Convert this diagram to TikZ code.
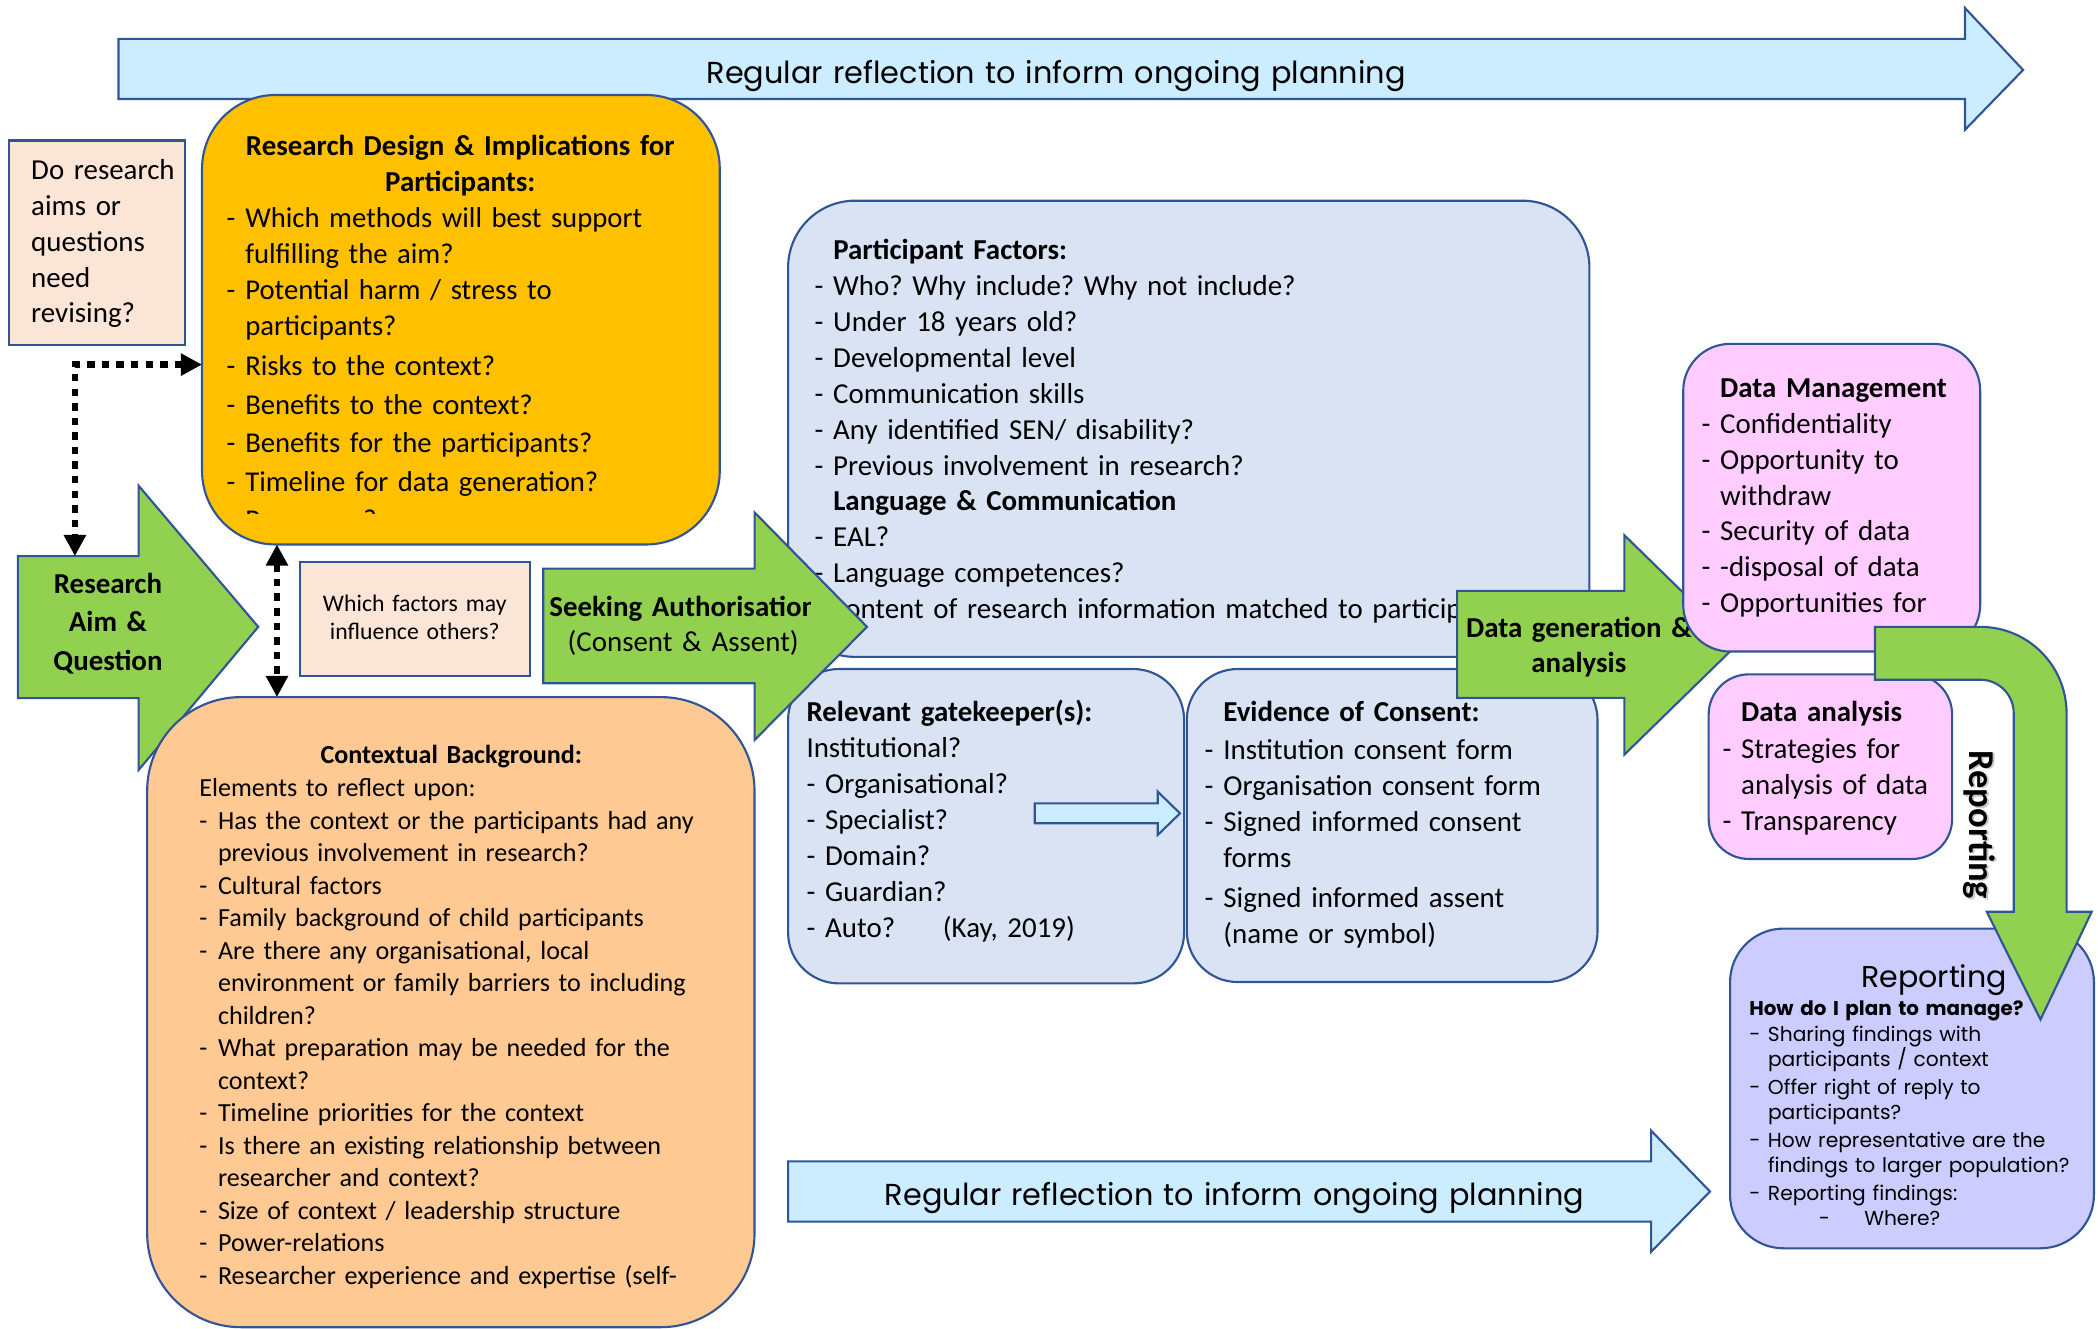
\documentclass[tikz,border=0pt]{standalone}
\usepackage{fontspec}
\setmainfont{Carlito}
\newfontfamily\gothic{Poppins}
\usetikzlibrary{arrows.meta}
\frenchspacing

\definecolor{edge}{HTML}{2F5597}
\definecolor{leaf}{HTML}{92D050}
\definecolor{sky}{HTML}{CCECFF}
\definecolor{gold}{HTML}{FFC000}
\definecolor{apricot}{HTML}{FFC993}
\definecolor{mist}{HTML}{DAE3F3}
\definecolor{orchid}{HTML}{FFCCFF}
\definecolor{lilac}{HTML}{CCCCFF}
\definecolor{peach}{HTML}{FBE5D6}

% list helpers: a dash column and the matching indent for wrapped lines
\newcommand\itemdash{\makebox[0.28cm][l]{-}}
\newcommand\itemgap{\hspace*{0.28cm}}
\newcommand\fsz[2]{\fontsize{#1}{#2}\selectfont}

\begin{document}
\begin{tikzpicture}[x=0.02cm,y=-0.02cm,
  panel/.style={draw=edge,line width=0.9pt,rectangle,inner sep=0pt,outer sep=0pt,anchor=north west},
  blk/.style={draw=edge,line width=0.9pt,line join=miter},
  txt/.style={anchor=base west,inner sep=0pt,align=left,text width=#1},
  txt/.default=11cm,
  ctxt/.style={anchor=base,inner sep=0pt,align=center,text width=#1},
  ctxt/.default=8cm,
  dots/.style={line width=2.8pt,dash pattern=on 3.2pt off 3pt,{Triangle[length=9pt,width=9pt]}-{Triangle[length=9pt,width=9pt]}},
]
\useasboundingbox (0,0) rectangle (1568,993);
\clip (0,0) rectangle (1568,993);

% ---------- top reflection arrow ----------
\draw[blk,fill=sky] (88.6,29.1) -- (1468.6,29.1) -- (1468.6,6) -- (1512,52.3)
  -- (1468.6,97) -- (1468.6,74) -- (88.6,74) -- cycle;
\node[ctxt=15cm,font=\gothic\fsz{12.9}{15}] (reflecttop) at (789.4,62.3)
  {Regular reflection to inform ongoing planning};

% ---------- left column ----------
\node[panel,fill=peach,minimum width=2.62cm,minimum height=3.06cm] (doq) at (7,105) {};
\node[txt=2.4cm,font=\fsz{12.3}{15.2}] (doqtext) at (23,134.5)
  {Do research\\aims or\\questions\\need\\revising?};

\node[panel,fill=gold,minimum width=7.74cm,minimum height=6.72cm,rounded corners=1.1cm] (rd) at (151,71) {};
\node[ctxt=7.4cm,font=\fsz{12.3}{15.35}\bfseries] (rdtitle) at (344,116.3)
  {Research Design \& Implications for\\Participants:};
\begin{scope}
  \clip (151,71) rectangle (538,384);
  \node[txt=7cm,font=\fsz{12.2}{15.35}] (rdlist) at (169,170.1)
    {\itemdash Which methods will best support\\
     \itemgap fulfilling the aim?\\
     \itemdash Potential harm / stress to\\
     \itemgap participants?\\[1.7pt]
     \itemdash Risks to the context?\\[1pt]
     \itemdash Benefits to the context?\\[1pt]
     \itemdash Benefits for the participants?\\[1pt]
     \itemdash Timeline for data generation?\\[1pt]
     \itemdash Resources?};
\end{scope}

% research aim arrow
\draw[blk,fill=leaf] (13.4,415.6) -- (103.6,415.6) -- (103.6,363) -- (193,468.5)
  -- (103.6,575.5) -- (103.6,521.8) -- (13.4,521.8) -- cycle;
\coordinate (aimtop) at (56,415.6);
\node[ctxt=3cm,font=\fsz{12.3}{16.3}\bfseries] (aimtext) at (80.7,443.5)
  {Research\\Aim \&\\Question};

% dotted links
\coordinate (bend) at (56,272.5);
\draw[dots] (rd.west |- bend) -- (bend) -- (aimtop);

\node[panel,fill=peach,minimum width=3.44cm,minimum height=1.7cm] (wf) at (224,420) {};
\node[ctxt=3.3cm,font=\fsz{10.1}{12}] (wftext) at (310,457.2)
  {Which factors may\\influence others?};

% ---------- participant panels ----------
\node[panel,fill=mist,minimum width=11.98cm,minimum height=6.82cm,rounded corners=1cm] (pf) at (589,150) {};
\begin{scope}
  \clip (589,150) rectangle (1188,491);
  \node[txt=13cm,font=\fsz{12.3}{15.25}] (pflist) at (608.4,194.3)
    {\itemgap\textbf{Participant Factors:}\\
     \itemdash Who? Why include? Why not include?\\
     \itemdash Under 18 years old?\\
     \itemdash Developmental level\\
     \itemdash Communication skills\\
     \itemdash Any identified SEN/ disability?\\
     \itemdash Previous involvement in research?\\
     \itemgap\textbf{Language \& Communication}\\
     \itemdash EAL?\\
     \itemdash Language competences?\\
     \itemdash content of research information matched to participants};
\end{scope}

\node[panel,fill=mist,minimum width=5.92cm,minimum height=4.7cm,rounded corners=0.76cm] (gk) at (589,500) {};
\node[txt=5.6cm,font=\fsz{12.3}{15.3}] (gklist) at (602.4,539.4)
  {\textbf{Relevant gatekeeper(s):}\\
   Institutional?\\
   \itemdash Organisational?\\
   \itemdash Specialist?\\
   \itemdash Domain?\\
   \itemdash Guardian?\\
   \itemdash \makebox[1.76cm][l]{Auto?}(Kay, 2019)};

\node[panel,fill=mist,minimum width=6.14cm,minimum height=4.68cm,rounded corners=0.76cm] (ev) at (887,500) {};
\node[txt=5.8cm,font=\fsz{12.3}{15.3}] (evlist) at (900,539.4)
  {\itemgap\textbf{Evidence of Consent:}\\[0.7pt]
   \itemdash Institution consent form\\
   \itemdash Organisation consent form\\
   \itemdash Signed informed consent\\
   \itemgap forms\\[1.7pt]
   \itemdash Signed informed assent\\
   \itemgap (name or symbol)};

% small arrow between the two lower panels
\draw[blk,fill=sky] (773.3,600.4) -- (865.3,600.4) -- (865.3,591.7) -- (881.9,607.9)
  -- (865.3,624) -- (865.3,615.3) -- (773.3,615.3) -- cycle;

% seeking authorisation arrow
\draw[blk,fill=leaf] (406,425) -- (564,425) -- (564,383) -- (648,468.5)
  -- (564,553) -- (564,510.6) -- (406,510.6) -- cycle;
\begin{scope}
  \clip (400,440) rectangle (606,470);
  \node[txt=5cm,font=\fsz{12.3}{14.9}\bfseries] (seek1) at (410.2,460.9) {Seeking Authorisation};
\end{scope}
\node[ctxt=4cm,font=\fsz{12.3}{14.9}] (seek2) at (510.6,487) {(Consent \& Assent)};

% ---------- contextual background ----------
\node[panel,fill=apricot,minimum width=9.08cm,minimum height=9.42cm,rounded corners=1.4cm] (cb) at (110,521) {};
\node[ctxt=8cm,font=\fsz{11.1}{13.83}\bfseries] (cbtitle) at (337.3,570.4) {Contextual Background:};
\node[txt=8.6cm,font=\fsz{11.1}{13.83}] (cblist) at (148.6,595.4)
  {Elements to reflect upon:\\
   \itemdash Has the context or the participants had any\\
   \itemgap previous involvement in research?\\
   \itemdash Cultural factors\\
   \itemdash Family background of child participants\\
   \itemdash Are there any organisational, local\\
   \itemgap environment or family barriers to including\\
   \itemgap children?\\
   \itemdash What preparation may be needed for the\\
   \itemgap context?\\
   \itemdash Timeline priorities for the context\\
   \itemdash Is there an existing relationship between\\
   \itemgap researcher and context?\\
   \itemdash Size of context / leadership structure\\
   \itemdash Power-relations\\
   \itemdash Researcher experience and expertise (self-};

\draw[dots] (rd.south -| 207,0) -- (cb.north -| 207,0);

% ---------- data generation ----------
\draw[blk,fill=leaf] (1089,441.6) -- (1214,441.6) -- (1214,400) -- (1298,482)
  -- (1214,564) -- (1214,521.6) -- (1089,521.6) -- cycle;
\node[ctxt=4cm,font=\fsz{12.3}{15.25}\bfseries] (dgtext) at (1180,476.1)
  {Data generation \&\\analysis};

\node[panel,fill=orchid,minimum width=4.44cm,minimum height=4.6cm,rounded corners=0.7cm] (dm) at (1258,257) {};
\node[txt=4.2cm,font=\fsz{12.3}{15.2}] (dmlist) at (1271.3,297.4)
  {\itemgap\textbf{Data Management}\\
   \itemdash Confidentiality\\
   \itemdash Opportunity to\\
   \itemgap withdraw\\
   \itemdash Security of data\\
   \itemdash -disposal of data\\
   \itemdash Opportunities for};

\node[panel,fill=orchid,minimum width=3.64cm,minimum height=2.76cm,rounded corners=0.6cm] (da) at (1277,504) {};
\node[txt=3.5cm,font=\fsz{12.3}{15.2}] (dalist) at (1287,538.9)
  {\itemgap\textbf{Data analysis}\\[0.8pt]
   \itemdash Strategies for\\
   \itemgap analysis of data\\
   \itemdash Transparency};

% ---------- reporting ----------
\node[panel,fill=lilac,minimum width=5.44cm,minimum height=4.78cm,rounded corners=0.8cm] (rp) at (1293,694) {};
\node[ctxt=5cm,font=\gothic\fsz{12.8}{15}] (rptitle) at (1445.5,738.4) {Reporting};
\node[txt=5cm,font=\gothic\fsz{8.45}{10}\bfseries] (rphead) at (1307,758.6) {How do I plan to manage?};
\begin{scope}
  \clip (1293,694) rectangle (1565,915.5);
  \node[txt=5cm,font=\gothic\fsz{8.6}{10.64}] (rplist) at (1307,778.5)
    {\itemdash Sharing findings with\\
     \itemgap participants / context\\[1.25pt]
     \itemdash Offer right of reply to\\
     \itemgap participants?\\[1.25pt]
     \itemdash How representative are the\\
     \itemgap findings to larger population?\\[1.25pt]
     \itemdash Reporting findings:\\
     \hspace*{1.04cm}\makebox[0.68cm][l]{-}Where?};
\end{scope}

% curved arrow from the data panels down to reporting
\draw[blk,fill=leaf] (1401.3,468.5) -- (1480,468.5) arc[start angle=90,end angle=0,radius=1.29cm]
  -- (1544.5,681.4) -- (1563.3,681.4) -- (1525,762) -- (1484.8,681.4) -- (1505,681.4)
  -- (1505,533) arc[start angle=0,end angle=90,radius=0.5cm] -- (1401.3,508) -- cycle;
\node[rotate=-90,inner sep=0pt,font=\fsz{15.5}{18}\bfseries,text=black!35,opacity=0.6] (rpshadow) at (1481,617.5) {Reporting};
\node[rotate=-90,inner sep=0pt,font=\fsz{15.5}{18}\bfseries] (rplabel) at (1479.5,616.5) {Reporting};

% ---------- bottom reflection arrow ----------
\draw[blk,fill=sky] (589,868) -- (1234,868) -- (1234,845) -- (1278,890.5)
  -- (1234,935.6) -- (1234,913) -- (589,913) -- cycle;
\node[ctxt=12cm,font=\gothic\fsz{12.9}{15}] (reflectbottom) at (922.6,900.6)
  {Regular reflection to inform ongoing planning};
\end{tikzpicture}
\end{document}
